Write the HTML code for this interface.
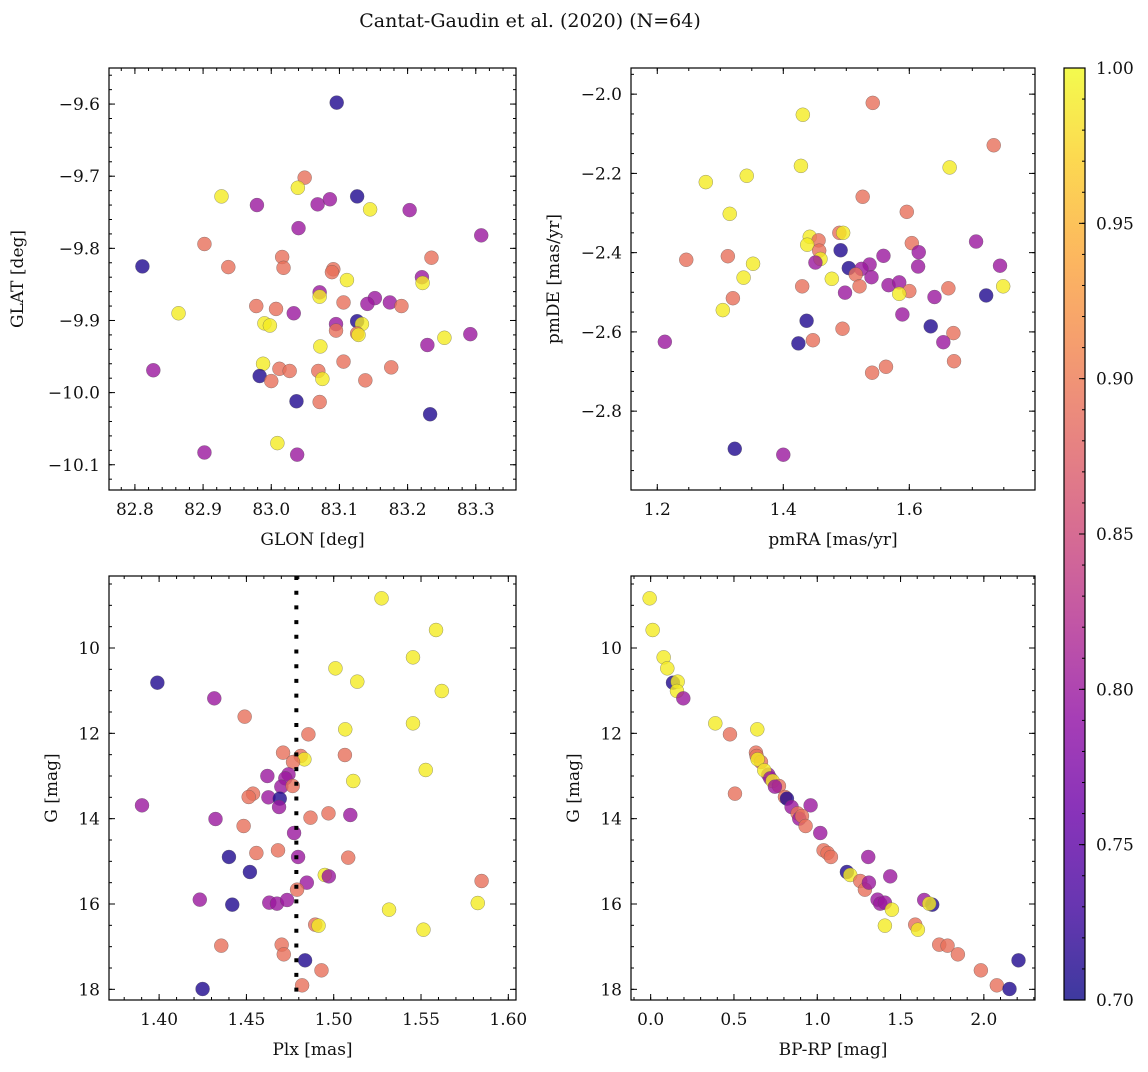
<!DOCTYPE html>
<html><head><meta charset="utf-8"><style>
html,body{margin:0;padding:0;background:#fff;}
svg text{font-family:"DejaVu Serif","Liberation Serif",serif;fill:#111;}
</style></head><body>
<svg id="fig" width="1148" height="1067" viewBox="0 0 1148 1067" xmlns="http://www.w3.org/2000/svg">
<text x="530" y="27" font-size="19" text-anchor="middle">Cantat-Gaudin et al. (2020) (N=64)</text>
</svg>
<script>
// Panel 1: GLON vs GLAT
const glon=[83.096,83.049,83.039,82.927,82.979,83.068,83.086,83.126,83.145,83.203,83.040,83.308,82.902,82.811,83.016,82.937,83.018,83.091,83.089,83.111,83.235,83.221,83.222,83.071,83.071,83.106,83.152,83.141,83.174,83.191,82.978,83.007,83.033,82.864,82.990,82.998,83.126,83.133,83.095,83.095,83.126,83.128,83.072,83.254,83.292,83.229,82.827,82.988,82.983,83.012,83.027,83.000,83.069,83.075,83.106,83.138,83.176,83.037,83.071,83.233,83.009,82.902,83.038];
const glat=[-9.598,-9.702,-9.716,-9.728,-9.740,-9.739,-9.732,-9.728,-9.746,-9.747,-9.772,-9.782,-9.794,-9.825,-9.812,-9.826,-9.827,-9.829,-9.833,-9.844,-9.813,-9.840,-9.848,-9.861,-9.867,-9.875,-9.869,-9.877,-9.875,-9.880,-9.880,-9.884,-9.890,-9.890,-9.904,-9.907,-9.901,-9.905,-9.905,-9.914,-9.918,-9.920,-9.936,-9.924,-9.919,-9.934,-9.969,-9.960,-9.977,-9.967,-9.970,-9.984,-9.970,-9.981,-9.957,-9.983,-9.965,-10.012,-10.013,-10.030,-10.070,-10.083,-10.086];
const prob1=[0.71,0.89,0.99,0.99,0.80,0.80,0.80,0.71,0.99,0.80,0.80,0.80,0.89,0.71,0.89,0.89,0.89,0.89,0.89,0.99,0.89,0.80,0.99,0.80,0.99,0.89,0.80,0.80,0.80,0.89,0.89,0.89,0.80,0.99,0.99,0.99,0.71,0.99,0.80,0.89,0.89,0.99,0.99,0.99,0.80,0.80,0.80,0.99,0.71,0.89,0.89,0.89,0.89,0.99,0.89,0.89,0.89,0.71,0.89,0.71,0.99,0.80,0.80];
// Panel 2: pmRA vs pmDE
const pmra=[1.542,1.431,1.734,1.428,1.664,1.277,1.342,1.526,1.596,1.315,1.489,1.495,1.442,1.456,1.438,1.604,1.706,1.457,1.491,1.615,1.246,1.312,1.352,1.459,1.451,1.559,1.744,1.504,1.537,1.524,1.614,1.515,1.540,1.477,1.337,1.430,1.521,1.567,1.584,1.600,1.584,1.498,1.640,1.662,1.749,1.722,1.320,1.304,1.589,1.437,1.634,1.494,1.670,1.212,1.424,1.447,1.654,1.671,1.563,1.541,1.323,1.400];
const pmde=[-2.022,-2.052,-2.129,-2.181,-2.185,-2.222,-2.206,-2.259,-2.297,-2.302,-2.350,-2.350,-2.360,-2.369,-2.380,-2.376,-2.372,-2.395,-2.394,-2.399,-2.418,-2.409,-2.428,-2.416,-2.425,-2.408,-2.433,-2.439,-2.430,-2.441,-2.435,-2.455,-2.462,-2.466,-2.463,-2.485,-2.485,-2.482,-2.475,-2.497,-2.504,-2.501,-2.512,-2.490,-2.485,-2.508,-2.515,-2.545,-2.556,-2.572,-2.586,-2.592,-2.603,-2.625,-2.629,-2.621,-2.626,-2.674,-2.688,-2.703,-2.895,-2.910];
const prob2=[0.89,0.99,0.89,0.99,0.99,0.99,0.99,0.89,0.89,0.99,0.89,0.99,0.99,0.89,0.99,0.89,0.80,0.89,0.71,0.80,0.89,0.89,0.99,0.99,0.80,0.80,0.80,0.71,0.80,0.80,0.80,0.89,0.80,0.99,0.99,0.89,0.89,0.80,0.80,0.89,0.99,0.80,0.80,0.89,0.99,0.71,0.89,0.99,0.80,0.71,0.71,0.89,0.89,0.80,0.71,0.89,0.80,0.89,0.89,0.89,0.71,0.80];
// Panel 3: Plx vs G
const plx=[1.5274,1.5586,1.5454,1.5010,1.5135,1.5619,1.3990,1.4316,1.4490,1.5454,1.5066,1.4855,1.4710,1.5064,1.4811,1.4832,1.4767,1.5527,1.5112,1.4620,1.4741,1.4723,1.4700,1.4765,1.4538,1.4513,1.4626,1.4691,1.4687,1.3902,1.4323,1.4484,1.4867,1.4970,1.5095,1.4773,1.4557,1.4681,1.4400,1.4796,1.5083,1.4520,1.4949,1.4972,1.4846,1.4790,1.5847,1.4233,1.4419,1.4631,1.4675,1.4733,1.5317,1.5825,1.4894,1.4913,1.5514,1.4356,1.4702,1.4714,1.4836,1.4930,1.4819,1.4249];
const gmag3=[8.836,9.578,10.219,10.477,10.789,11.008,10.813,11.180,11.609,11.766,11.906,12.023,12.453,12.508,12.531,12.609,12.672,12.859,13.117,13.000,12.961,13.055,13.250,13.234,13.414,13.492,13.500,13.531,13.727,13.688,14.008,14.172,13.977,13.875,13.914,14.336,14.805,14.742,14.898,14.898,14.914,15.250,15.320,15.352,15.500,15.664,15.461,15.898,16.016,15.969,15.992,15.906,16.133,15.977,16.484,16.508,16.602,16.977,16.953,17.180,17.320,17.555,17.906,17.992];
const prob3=[0.99,0.99,0.99,0.99,0.99,0.99,0.71,0.80,0.89,0.99,0.99,0.89,0.89,0.89,0.89,0.99,0.89,0.99,0.99,0.80,0.80,0.80,0.80,0.89,0.89,0.89,0.80,0.71,0.80,0.80,0.80,0.89,0.89,0.89,0.80,0.80,0.89,0.89,0.71,0.80,0.89,0.71,0.99,0.80,0.80,0.89,0.89,0.80,0.71,0.80,0.80,0.80,0.99,0.99,0.89,0.99,0.99,0.89,0.89,0.89,0.71,0.89,0.89,0.71];
const plxRef=[1.4786];
// Panel 4: BP-RP vs G
const bprp=[-0.006,0.012,0.078,0.100,0.134,0.162,0.158,0.196,0.388,0.476,0.640,0.632,0.636,0.662,0.642,0.706,0.682,0.718,0.732,0.770,0.746,0.806,0.818,0.846,0.506,0.960,0.882,0.892,0.908,0.930,1.018,1.038,1.062,1.082,1.306,1.178,1.198,1.258,1.286,1.310,1.438,1.362,1.378,1.406,1.448,1.406,1.642,1.690,1.672,1.588,1.604,1.732,1.782,1.844,2.208,1.982,2.078,2.154];
const gmag4=[8.836,9.578,10.219,10.477,10.813,10.789,11.008,11.180,11.766,12.023,11.906,12.453,12.531,12.672,12.609,12.969,12.867,13.055,13.117,13.234,13.250,13.492,13.531,13.727,13.414,13.688,13.875,14.000,13.938,14.172,14.336,14.742,14.805,14.898,14.898,15.250,15.320,15.461,15.664,15.500,15.352,15.898,15.992,15.969,16.133,16.508,15.906,16.016,15.992,16.484,16.602,16.953,16.977,17.180,17.320,17.555,17.906,17.992];
const prob4=[0.99,0.99,0.99,0.99,0.71,0.99,0.99,0.80,0.99,0.89,0.99,0.89,0.89,0.89,0.99,0.80,0.99,0.80,0.99,0.89,0.80,0.89,0.71,0.80,0.89,0.80,0.89,0.80,0.89,0.89,0.80,0.89,0.89,0.89,0.80,0.71,0.99,0.89,0.89,0.80,0.80,0.80,0.80,0.80,0.99,0.99,0.80,0.71,0.99,0.89,0.99,0.89,0.89,0.89,0.71,0.89,0.89,0.71];
const cbTicks=[0.70,0.75,0.80,0.85,0.90,0.95,1.00];

const NS="http://www.w3.org/2000/svg";
const svg=document.getElementById('fig');
function mk(tag,attrs,parent){const e=document.createElementNS(NS,tag);for(const k in attrs)e.setAttribute(k,attrs[k]);(parent||svg).appendChild(e);return e;}
const stops=['#0d0887','#41049d','#6a00a8','#8f0da4','#b12a90','#cc4778','#e16462','#f2844b','#fca636','#fcce25','#f0f921'];
function hex(h){return [1,3,5].map(i=>parseInt(h.substr(i,2),16));}
function plasma(t){t=Math.max(0,Math.min(1,t));const s=t*10,i=Math.min(9,Math.floor(s)),f=s-i;const a=hex(stops[i]),b=hex(stops[i+1]);return 'rgb('+a.map((v,k)=>Math.round(v+(b[k]-v)*f)).join(',')+')';}
function cmap(v){return plasma((v-0.7)/0.3);}
function fmtNum(v,d){const s=Math.abs(v).toFixed(d);return (v<-1e-9?'\u2212':'')+s;}

function panel(o){
  const g=mk('g',{});
  
  
  const sx=v=>o.L+(v-o.xlim[0])/(o.xlim[1]-o.xlim[0])*(o.R-o.L);
  const sy=v=>o.B-(v-o.ylim[0])/(o.ylim[1]-o.ylim[0])*(o.B-o.T);
  o.sx=sx;o.sy=sy;
  const pts=mk('g',{},g);
  
  
  for(let i=0;i<o.xs.length;i++){
    const c=mk('circle',{cx:sx(o.xs[i]),cy:sy(o.ys[i]),r:7,fill:cmap(o.cs[i]),'fill-opacity':0.8,stroke:'#555','stroke-opacity':0.6,'stroke-width':0.5},pts);
    
    
  }
  if(o.extra)o.extra(g);
  const fr=mk('rect',{x:o.L,y:o.T,width:o.R-o.L,height:o.B-o.T,fill:'none',stroke:'#000','stroke-width':1.2},g);
  
  
  const eps=1e-9;
  function ticks(lim,step){const lo=Math.min(lim[0],lim[1]),hi=Math.max(lim[0],lim[1]);const a=[];let s=Math.ceil(lo/step-eps);for(let k=s;k*step<=hi+eps;k++)a.push(+(k*step).toFixed(6));return a;}
  ticks(o.xlim,o.xminor).forEach(v=>{const x=sx(v);mk('line',{x1:x,x2:x,y1:o.B,y2:o.B-3,stroke:'#000'},g);mk('line',{x1:x,x2:x,y1:o.T,y2:o.T+3,stroke:'#000'},g);});
  ticks(o.xlim,o.xmajor).forEach(v=>{const x=sx(v);mk('line',{x1:x,x2:x,y1:o.B,y2:o.B-6,stroke:'#000'},g);mk('line',{x1:x,x2:x,y1:o.T,y2:o.T+6,stroke:'#000'},g);
    const t=mk('text',{x:x,y:o.B+25,'font-size':17,'text-anchor':'middle'},g);t.textContent=fmtNum(v,o.xd);
    });
  ticks(o.ylim,o.yminor).forEach(v=>{const y=sy(v);mk('line',{x1:o.L,x2:o.L+3,y1:y,y2:y,stroke:'#000'},g);mk('line',{x1:o.R,x2:o.R-3,y1:y,y2:y,stroke:'#000'},g);});
  ticks(o.ylim,o.ymajor).forEach(v=>{const y=sy(v);mk('line',{x1:o.L,x2:o.L+6,y1:y,y2:y,stroke:'#000'},g);mk('line',{x1:o.R,x2:o.R-6,y1:y,y2:y,stroke:'#000'},g);
    const t=mk('text',{x:o.L-9,y:y+6,'font-size':17,'text-anchor':'end'},g);t.textContent=fmtNum(v,o.yd);
    });
  const xl=mk('text',{x:(o.L+o.R)/2,y:o.B+55,'font-size':17,'text-anchor':'middle'},g);xl.textContent=o.xlabel;
  
  const yx=o.ylx,yy=(o.T+o.B)/2;
  const yl=mk('text',{x:yx,y:yy,'font-size':17,'text-anchor':'middle',transform:'rotate(-90 '+yx+' '+yy+')'},g);yl.textContent=o.ylabel;
  
}

panel({name:'sky-position-panel',L:109,T:68,R:516,B:490,xlim:[82.762,83.359],ylim:[-10.135,-9.550],xmajor:0.1,xminor:0.02,ymajor:0.1,yminor:0.02,xd:1,yd:1,xs:glon,ys:glat,cs:prob1,xlabel:'GLON [deg]',ylabel:'GLAT [deg]',ylx:23});
panel({name:'proper-motion-panel',L:631,T:68,R:1035,B:490,xlim:[1.1583,1.7995],ylim:[-2.999,-1.934],xmajor:0.2,xminor:0.05,ymajor:0.2,yminor:0.05,xd:1,yd:1,xs:pmra,ys:pmde,cs:prob2,xlabel:'pmRA [mas/yr]',ylabel:'pmDE [mas/yr]',ylx:559});
panel({name:'parallax-panel',L:109,T:576,R:516,B:1000,xlim:[1.3713,1.6044],ylim:[18.25,8.3125],xmajor:0.05,xminor:0.01,ymajor:2,yminor:0.5,xd:2,yd:0,xs:plx,ys:gmag3,cs:prob3,xlabel:'Plx [mas]',ylabel:'G [mag]',ylx:57,
  extra:function(g){const x=this.sx(plxRef[0]);const l=mk('line',{x1:x,x2:x,y1:this.T,y2:this.B,stroke:'#000','stroke-width':4,'stroke-dasharray':'4 10.7'},g);
    }});
panel({name:'cmd-panel',L:631,T:576,R:1035,B:1000,xlim:[-0.118,2.307],ylim:[18.25,8.3125],xmajor:0.5,xminor:0.1,ymajor:2,yminor:0.5,xd:1,yd:0,xs:bprp,ys:gmag4,cs:prob4,xlabel:'BP-RP [mag]',ylabel:'G [mag]',ylx:579});

// Colorbar
(function(){
  const L=1064,R=1085,T=68,B=1000,vmin=0.7,vmax=1.0;
  const g=mk('g',{});
  
  
  const defs=mk('defs',{},g);
  const lg=mk('linearGradient',{id:'cbg',x1:0,y1:1,x2:0,y2:0},defs);
  for(let i=0;i<=20;i++){mk('stop',{offset:i/20,'stop-color':plasma(i/20)},lg);}
  const r=mk('rect',{x:L,y:T,width:R-L,height:B-T,fill:'url(#cbg)','fill-opacity':0.8},g);
  
  mk('rect',{x:L,y:T,width:R-L,height:B-T,fill:'none',stroke:'#000','stroke-width':1.2},g);
  const sy=v=>B-(v-vmin)/(vmax-vmin)*(B-T);
  for(let k=70;k<=100;k++){const y=sy(k/100);mk('line',{x1:R,x2:R-3,y1:y,y2:y,stroke:'#000'},g);}
  cbTicks.forEach(v=>{const y=sy(v);mk('line',{x1:R,x2:R-6,y1:y,y2:y,stroke:'#000'},g);
    const t=mk('text',{x:R+11,y:y+6,'font-size':17},g);t.textContent=v.toFixed(2);
    });
})();
</script>
</body></html>
